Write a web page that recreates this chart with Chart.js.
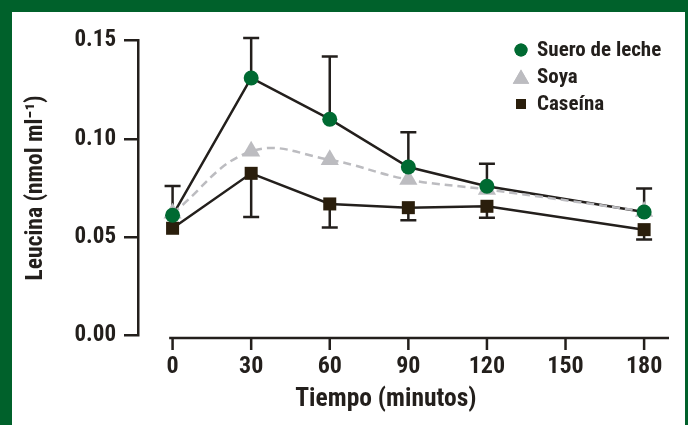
<!DOCTYPE html>
<html><head><meta charset="utf-8">
<script src="https://cdn.jsdelivr.net/npm/chart.js@4.4.1/dist/chart.umd.min.js"></script>
<style>
html,body{margin:0;padding:0;background:#00612b;width:688px;height:425px;overflow:hidden}
#panel{position:absolute;left:12px;top:12px;width:673px;height:413px;background:#fff}
canvas{display:block}
</style></head><body>
<div id="panel"><canvas id="c" width="673" height="413"></canvas></div>
<script>
// ---- data ----
const times = [0, 30, 60, 90, 120, 180];
const xTicks = [0, 30, 60, 90, 120, 150, 180];
const yTicks = [0, 0.05, 0.10, 0.15];
const seriesLabels = ['Suero de leche', 'Soya', 'Caseína'];
const suero = [0.061, 0.131, 0.110, 0.0856, 0.0758, 0.0627];
const sueroUpper = [0.0759, 0.1514, 0.142, 0.1034, 0.0873, 0.0747];
const soya = [0.062, 0.0936, 0.0893, 0.0792, 0.0742, 0.063];
const caseina = [0.0544, 0.0824, 0.0668, 0.0649, 0.0656, 0.0537];
const caseinaLower = [null, 0.0601, 0.0548, 0.0585, 0.0598, 0.0487];

// ---- style ----
const INK = '#231f1c';
const GREEN = '#006a32';
const GREY = '#bcbcc0';
const SQ = '#2a1e0c';
const FONT = "'Roboto Condensed', 'Open Sans', sans-serif";

const pts = vals => times.map((t, i) => ({x: t, y: vals[i]}));

const errorBars = {
  id: 'errorBars',
  beforeDatasetsDraw(chart) {
    const ctx = chart.ctx, xs = chart.scales.x, ys = chart.scales.y;
    ctx.save();
    ctx.strokeStyle = INK; ctx.lineWidth = 2.5;
    const bar = (t, v, e) => {
      if (e == null) return;
      const x = xs.getPixelForValue(t), y1 = ys.getPixelForValue(v), y2 = ys.getPixelForValue(e);
      ctx.beginPath();
      ctx.moveTo(x, y1); ctx.lineTo(x, y2);
      ctx.moveTo(x - 8, y2); ctx.lineTo(x + 8, y2);
      ctx.stroke();
    };
    times.forEach((t, i) => { bar(t, suero[i], sueroUpper[i]); bar(t, caseina[i], caseinaLower[i]); });
    ctx.restore();
  }
};

const xAxisLine = {
  id: 'xAxisLine',
  beforeDatasetsDraw(chart) {
    const ctx = chart.ctx, xs = chart.scales.x;
    const y = chart.chartArea.bottom + 3;
    ctx.save();
    ctx.strokeStyle = INK; ctx.lineWidth = 2.5;
    ctx.beginPath();
    ctx.moveTo(xs.getPixelForValue(-1.3), y);
    ctx.lineTo(chart.chartArea.right, y);
    xTicks.forEach(t => {
      const x = xs.getPixelForValue(t);
      ctx.moveTo(x, y); ctx.lineTo(x, y + 12);
    });
    ctx.stroke();
    ctx.restore();
  }
};

const legendPlugin = {
  id: 'customLegend',
  afterDraw(chart) {
    const ctx = chart.ctx;
    const items = [
      {text: seriesLabels[0], style: 'circle', r: 6.5, color: GREEN},
      {text: seriesLabels[1], style: 'triangle', r: 9.5, color: GREY},
      {text: seriesLabels[2], style: 'rect', r: 7, color: SQ}
    ];
    ctx.save();
    ctx.font = 'bold 21px ' + FONT;
    ctx.textBaseline = 'middle';
    items.forEach((it, i) => {
      const y = 38 + i * 27;
      ctx.fillStyle = it.color; ctx.strokeStyle = it.color;
      Chart.helpers.drawPoint(ctx, {pointStyle: it.style, radius: it.r, borderWidth: 0}, 509, y + (it.style === 'triangle' ? 2 : 0));
      ctx.fill();
      ctx.fillStyle = INK;
      ctx.fillText(it.text, 525, y + 1);
    });
    ctx.restore();
  }
};

new Chart(document.getElementById('c'), {
  type: 'line',
  data: {
    datasets: [
      {label: seriesLabels[0], data: pts(suero), showLine: false, pointStyle: 'circle', pointRadius: 7.5,
       pointBackgroundColor: GREEN, pointBorderWidth: 0, borderColor: GREEN, clip: false},
      {label: seriesLabels[1], data: pts(soya), borderColor: GREY, borderWidth: 2.5, borderDash: [8, 5],
       tension: 0.4, pointStyle: 'triangle', pointRadius: 10.5, pointBackgroundColor: GREY, pointBorderWidth: 0, clip: false},
      {label: seriesLabels[0] + ' (línea)', data: pts(suero), borderColor: INK, borderWidth: 2.5, tension: 0,
       pointRadius: 0, clip: false},
      {label: seriesLabels[2], data: pts(caseina), borderColor: INK, borderWidth: 2.5, tension: 0,
       pointStyle: 'rect', pointRadius: 9.2, pointBackgroundColor: SQ, pointBorderWidth: 0, clip: false}
    ]
  },
  options: {
    responsive: false, animation: false, devicePixelRatio: 1,
    layout: {padding: {left: 0, top: 28.7, right: 16, bottom: 0}},
    plugins: {legend: {display: false}, tooltip: {enabled: false}},
    scales: {
      x: {
        type: 'linear', min: -13.2, max: 189.5,
        afterBuildTicks: s => { s.ticks = xTicks.map(v => ({value: v})); },
        afterFit: s => { s.height = 90; },
        grid: {display: false}, border: {display: false},
        ticks: {autoSkip: false, maxRotation: 0, padding: 10, color: INK,
                font: {family: FONT, size: 24, weight: 'bold'}},
        title: {display: true, text: 'Tiempo (minutos)      ', color: INK, padding: {top: 0, bottom: 10},
                font: {family: FONT, size: 25.5, weight: 'bold'}}
      },
      y: {
        min: 0, max: 0.15,
        afterBuildTicks: s => { s.ticks = yTicks.map(v => ({value: v})); },
        afterFit: s => { s.width = 126; },
        grid: {drawOnChartArea: false, drawTicks: true, tickLength: 14, color: INK, lineWidth: 2.5},
        border: {display: true, color: INK, width: 2.5},
        ticks: {padding: 8, color: INK, callback: v => v.toFixed(2),
                font: {family: FONT, size: 23, weight: 'bold'}},
        title: {display: true, text: 'Leucina (nmol ml⁻¹)', color: INK, padding: {top: 10, bottom: 0},
                font: {family: FONT, size: 23.5, weight: 'bold'}}
      }
    }
  },
  plugins: [errorBars, xAxisLine, legendPlugin]
});
</script>
</body></html>
